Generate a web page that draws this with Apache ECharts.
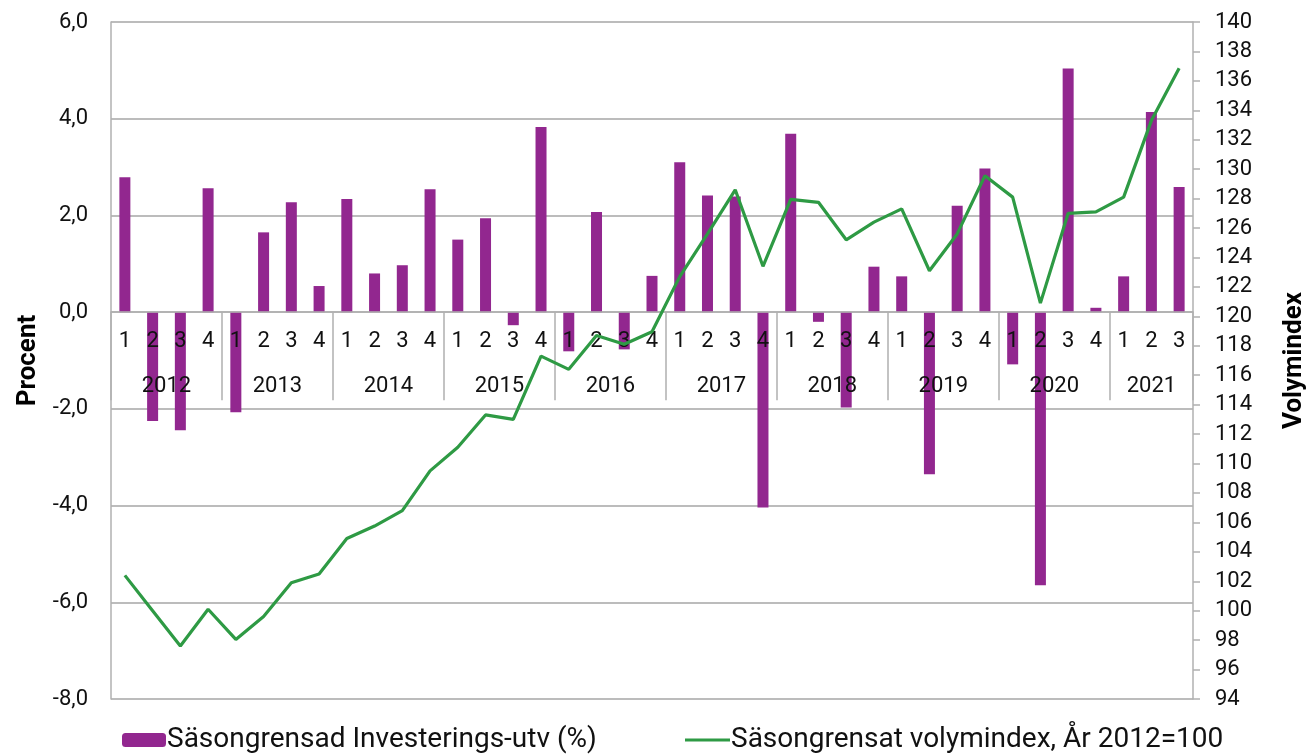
<!DOCTYPE html>
<html lang="sv">
<head>
    <meta charset="UTF-8">
    <title>Investeringar</title>
    <script src="https://cdn.jsdelivr.net/npm/echarts@6/dist/echarts.min.js"></script>
    <style>
        html, body { margin: 0; padding: 0; background: #fff; }
        #chart { width: 1310px; height: 755px; }
    </style>
</head>
<body>
<div id="chart"></div>
<script>
    // kvartal 2012 K1 - 2021 K3
    var kvartal = ['2012-1','2012-2','2012-3','2012-4',
        '2013-1','2013-2','2013-3','2013-4',
        '2014-1','2014-2','2014-3','2014-4',
        '2015-1','2015-2','2015-3','2015-4',
        '2016-1','2016-2','2016-3','2016-4',
        '2017-1','2017-2','2017-3','2017-4',
        '2018-1','2018-2','2018-3','2018-4',
        '2019-1','2019-2','2019-3','2019-4',
        '2020-1','2020-2','2020-3','2020-4',
        '2021-1','2021-2','2021-3'];
    var ar = ['2012','2013','2014','2015','2016','2017','2018','2019','2020','2021'];

    // Säsongrensad investeringsutveckling (%)
    var investering = [2.79, -2.25, -2.44, 2.56,
        -2.07, 1.65, 2.27, 0.54,
        2.34, 0.80, 0.97, 2.54,
        1.50, 1.94, -0.27, 3.83,
        -0.81, 2.07, -0.77, 0.75,
        3.10, 2.41, 2.39, -4.04,
        3.69, -0.20, -1.97, 0.94,
        0.74, -3.35, 2.20, 2.97,
        -1.08, -5.65, 5.04, 0.09,
        0.74, 4.14, 2.59];

    // Säsongrensat volymindex, år 2012 = 100
    var volymindex = [102.4, 100.0, 97.6, 100.1,
        98.05, 99.6, 101.9, 102.5,
        104.9, 105.75, 106.8, 109.5,
        111.1, 113.3, 113.0, 117.3,
        116.4, 118.7, 118.1, 118.95,
        122.7, 125.6, 128.6, 123.4,
        127.95, 127.75, 125.2, 126.4,
        127.3, 123.1, 125.6, 129.55,
        128.1, 120.9, 127.0, 127.1,
        128.1, 133.3, 136.85];

    var namnStaplar = 'Säsongrensad Investerings-utv (%)';
    var namnLinje = 'Säsongrensat volymindex, År 2012=100';

    // första och sista kvartalsindex per år
    var arSpann = ar.map(function (y) {
        var idx = [];
        kvartal.forEach(function (k, i) { if (k.indexOf(y) === 0) idx.push(i); });
        return [idx[0], idx[idx.length - 1]];
    });

    var gray = '#b0b0b0';
    var font = 'Roboto';
    var purple = '#92278f';
    var green = '#2e9a44';

    // text under nollinjen (kvartal och år)
    function textUnderNoll(text, x, y0, dy) {
        return {
            type: 'text',
            style: {
                text: text, x: x, y: y0 + dy,
                align: 'center', verticalAlign: 'middle',
                fontSize: 22, fontFamily: font, fill: '#111'
            }
        };
    }

    var myChart = echarts.init(document.getElementById('chart'));
    var option = {
        backgroundColor: '#fff',
        animation: false,
        textStyle: { fontFamily: font },
        grid: { left: 111, right: 117, top: 22, bottom: 56, outerBoundsMode: 'none', containLabel: false },
        legend: [{
            left: 117,
            top: 721,
            itemWidth: 44,
            itemHeight: 14,
            data: [namnStaplar],
            textStyle: { fontSize: 28, color: '#111', fontFamily: font, padding: [0, 0, 0, -4] }
        }, {
            left: 680,
            top: 721,
            itemWidth: 45,
            itemHeight: 3,
            icon: 'rect',
            data: [namnLinje],
            textStyle: { fontSize: 28, color: '#111', fontFamily: font, padding: [0, 0, 0, -4] }
        }],
        xAxis: {
            type: 'category',
            data: kvartal,
            z: 5,
            axisLine: { onZero: true, onZeroAxisIndex: 0, lineStyle: { color: gray, width: 1.5 } },
            axisTick: {
                show: true,
                length: 88,
                interval: function (i) { return i % 4 === 0; },
                lineStyle: { color: gray, width: 1.5 }
            },
            axisLabel: { show: false }
        },
        yAxis: [{
            type: 'value',
            min: -8, max: 6, interval: 2,
            name: 'Procent',
            nameLocation: 'middle',
            nameRotate: 90,
            nameGap: 70,
            nameTextStyle: { fontSize: 26, fontWeight: 'bold', color: '#000' },
            axisLine: { show: true, lineStyle: { color: gray, width: 1.5 } },
            axisTick: { show: false },
            splitLine: { lineStyle: { color: '#a6a6a6', width: 1.5 } },
            axisLabel: {
                fontSize: 22, color: '#111', margin: 23,
                formatter: function (v) { return v.toFixed(1).replace('.', ','); }
            }
        }, {
            type: 'value',
            min: 94, max: 140, interval: 2,
            name: 'Volymindex',
            nameLocation: 'middle',
            nameRotate: 90,
            nameGap: 88,
            nameTextStyle: { fontSize: 26, fontWeight: 'bold', color: '#000' },
            axisLine: { show: true, lineStyle: { color: gray, width: 1.5 } },
            axisTick: { show: true, length: 7, lineStyle: { color: gray, width: 1.5 } },
            splitLine: { show: false },
            axisLabel: { fontSize: 22, color: '#111', margin: 22 }
        }],
        series: [{
            name: namnStaplar,
            type: 'bar',
            yAxisIndex: 0,
            barWidth: 11,
            itemStyle: { color: purple },
            data: investering
        }, {
            name: namnLinje,
            type: 'line',
            yAxisIndex: 1,
            symbol: 'none',
            z: 10,
            lineStyle: { color: green, width: 3.2 },
            itemStyle: { color: green },
            data: volymindex
        }, {
            // kvartalsetiketter
            type: 'custom',
            yAxisIndex: 0,
            silent: true,
            z: 6,
            data: kvartal.map(function (k, i) { return [i, 0]; }),
            renderItem: function (params, api) {
                var p = api.coord([api.value(0), 0]);
                return textUnderNoll(kvartal[params.dataIndex].split('-')[1], p[0], p[1], 29);
            }
        }, {
            // årsetiketter
            type: 'custom',
            yAxisIndex: 0,
            silent: true,
            z: 6,
            data: arSpann,
            renderItem: function (params, api) {
                var a = api.coord([api.value(0), 0]);
                var b = api.coord([api.value(1), 0]);
                return textUnderNoll(ar[params.dataIndex], (a[0] + b[0]) / 2, a[1], 74);
            }
        }]
    };
    myChart.setOption(option);
</script>
</body>
</html>
